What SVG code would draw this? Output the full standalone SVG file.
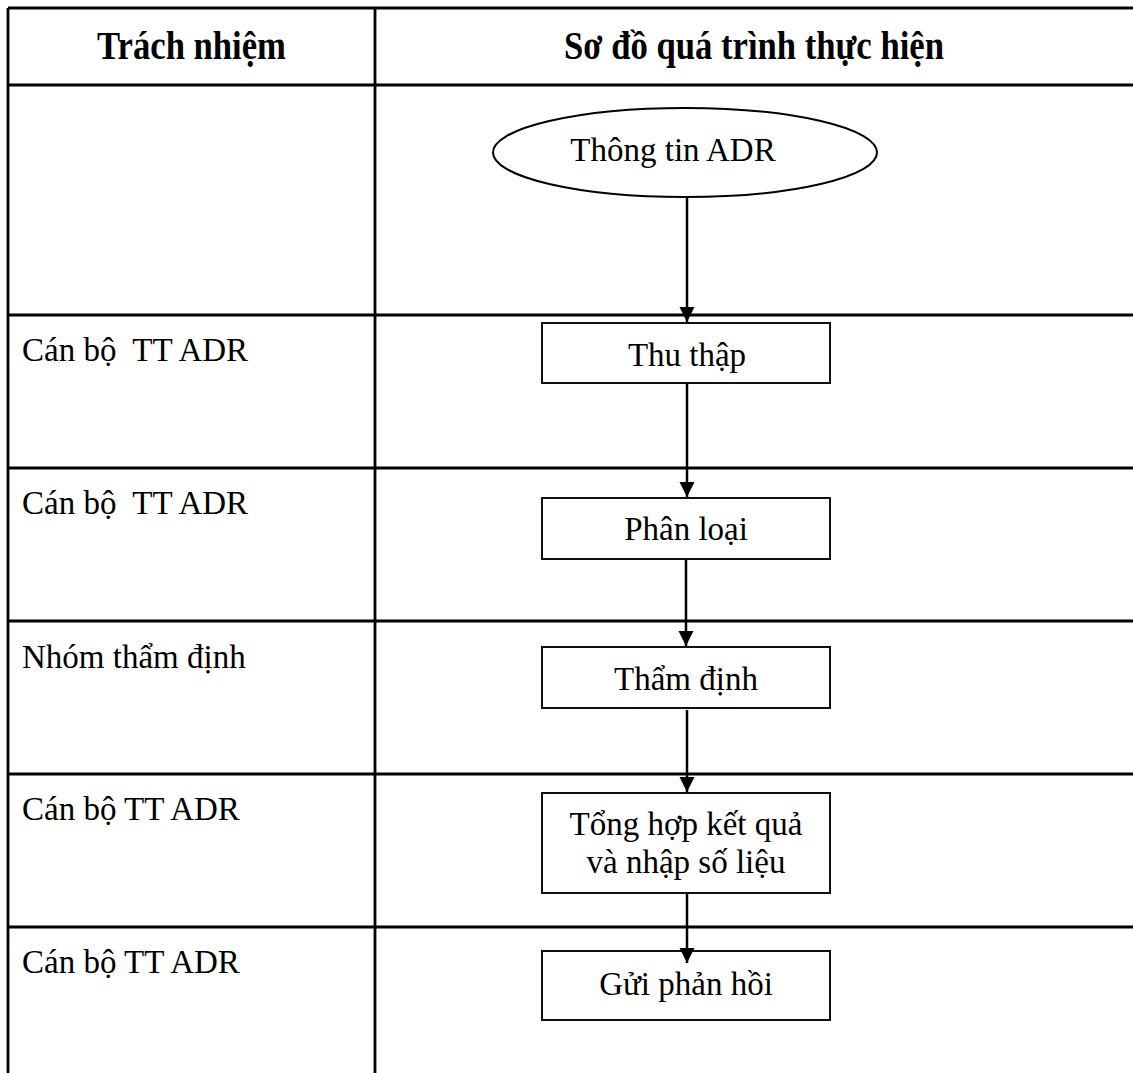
<svg xmlns="http://www.w3.org/2000/svg" width="1133" height="1073" viewBox="0 0 1133 1073">
<style>
.grid{stroke:#000;stroke-width:2.8;fill:none}
.box{fill:#fff;stroke:#111;stroke-width:2}
.t{font-family:"Liberation Serif","Times New Roman",serif;font-size:33px;fill:#000}
.h{font-family:"Liberation Serif","Times New Roman",serif;font-size:39px;font-weight:bold;fill:#000}
.c{text-anchor:middle}
.arr{stroke:#000;stroke-width:2.5;fill:none;marker-end:url(#ah)}
</style>
<defs>
<marker id="ah" markerUnits="userSpaceOnUse" markerWidth="16" markerHeight="16" refX="15" refY="7.5" orient="auto">
<path d="M0,0 L15,7.5 L0,15 Z" fill="#000"/>
</marker>
</defs>
<rect width="1133" height="1073" fill="#fff"/>
<g id="table">
<line class="grid" x1="8" y1="8" x2="1133" y2="8"/>
<line class="grid" x1="8" y1="85" x2="1133" y2="85"/>
<line class="grid" x1="8" y1="315" x2="1133" y2="315"/>
<line class="grid" x1="8" y1="468" x2="1133" y2="468"/>
<line class="grid" x1="8" y1="621" x2="1133" y2="621"/>
<line class="grid" x1="8" y1="774" x2="1133" y2="774"/>
<line class="grid" x1="8" y1="927" x2="1133" y2="927"/>
<line class="grid" x1="8" y1="8" x2="8" y2="1073"/>
<line class="grid" x1="375" y1="8" x2="375" y2="1073"/>
<text class="h c" x="191.5" y="59" textLength="189" lengthAdjust="spacingAndGlyphs">Trách nhiệm</text>
<text class="h c" x="754" y="59" textLength="380" lengthAdjust="spacingAndGlyphs">Sơ đồ quá trình thực hiện</text>
<text class="t" x="22" y="361" xml:space="preserve">Cán bộ  TT ADR</text>
<text class="t" x="22" y="514" xml:space="preserve">Cán bộ  TT ADR</text>
<text class="t" x="22" y="668">Nhóm thẩm định</text>
<text class="t" x="22" y="820">Cán bộ TT ADR</text>
<text class="t" x="22" y="973">Cán bộ TT ADR</text>
</g>
<g id="n-thongtin">
<ellipse cx="685" cy="152.5" rx="192" ry="44.5" fill="none" stroke="#000" stroke-width="2"/>
<text class="t c" x="673" y="161">Thông tin ADR</text>
</g>
<g id="n-thuthap">
<rect class="box" x="542" y="323" width="288" height="60"/>
<text class="t c" x="687" y="366">Thu thập</text>
</g>
<g id="n-phanloai">
<rect class="box" x="542" y="498" width="288" height="61"/>
<text class="t c" x="686" y="540">Phân loại</text>
</g>
<g id="n-thamdinh">
<rect class="box" x="542" y="647" width="288" height="61"/>
<text class="t c" x="686" y="690">Thẩm định</text>
</g>
<g id="n-tonghop">
<rect class="box" x="542" y="793" width="288" height="100"/>
<text class="t c" x="686" y="835">Tổng hợp kết quả</text>
<text class="t c" x="686" y="873">và nhập số liệu</text>
</g>
<g id="n-guiphanhoi">
<rect class="box" x="542" y="951" width="288" height="69"/>
<text class="t c" x="686" y="995">Gửi phản hồi</text>
</g>
<g id="connectors">
<line class="arr" x1="687" y1="197" x2="687" y2="322"/>
<line class="arr" x1="687" y1="384" x2="687" y2="497"/>
<line class="arr" x1="686" y1="560" x2="686" y2="646"/>
<line class="arr" x1="687" y1="710" x2="687" y2="792"/>
<line class="arr" x1="687" y1="894" x2="687" y2="963"/>
</g>
</svg>
